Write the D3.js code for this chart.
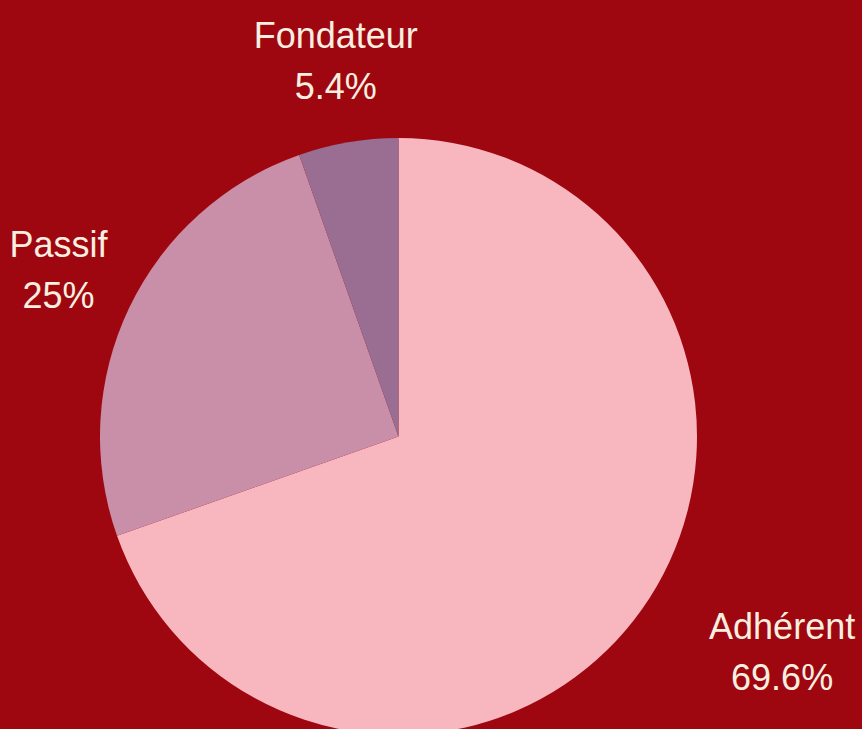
<!DOCTYPE html>
<html>
<head>
<meta charset="utf-8">
<script src="https://cdn.jsdelivr.net/npm/d3@7"></script>
<style>
  html, body { margin: 0; padding: 0; background: #9e0710; }
  svg { display: block; }
  .lbl { font-family: "Liberation Sans", Arial, sans-serif; font-size: 36px; fill: #f9efe0; }
</style>
</head>
<body>
<div id="chart"></div>
<script>
var categories = ["Adhérent", "Passif", "Fondateur"];
var values = [69.6, 25, 5.4];
var valueLabels = ["69.6%", "25%", "5.4%"];
var colors = ["#f8b6bf", "#c98ea8", "#996e92"];

var cfg = {
    w: 862,
    h: 729,
    cx: 398.5,
    cy: 436.5,
    r: 298.5,
    labelR: 378
};

var data = categories.map(function (c, i) {
    return { name: c, value: values[i], label: valueLabels[i], color: colors[i] };
});

var svg = d3.select("#chart").append("svg")
    .attr("width", cfg.w)
    .attr("height", cfg.h);

svg.append("rect")
    .attr("width", cfg.w)
    .attr("height", cfg.h)
    .attr("fill", "#9e0710");

var g = svg.append("g")
    .attr("transform", "translate(" + cfg.cx + "," + cfg.cy + ")");

var pie = d3.pie()
    .sort(null)
    .value(function (d) { return d.value; });

var arc = d3.arc().innerRadius(0).outerRadius(cfg.r);
var labelArc = d3.arc().innerRadius(cfg.labelR).outerRadius(cfg.labelR);

var arcs = pie(data);

g.selectAll("path.slice")
    .data(arcs)
    .enter()
    .append("path")
    .attr("class", "slice")
    .attr("d", arc)
    .attr("fill", function (d) { return d.data.color; });

// labels: two lines, centered on each other
var lbl = g.selectAll("g.lbl-g")
    .data(arcs)
    .enter()
    .append("g")
    .attr("class", "lbl-g");

lbl.each(function (d) {
    var p = labelArc.centroid(d);
    var grp = d3.select(this);
    var t1 = grp.append("text").attr("class", "lbl").attr("text-anchor", "middle")
        .attr("y", p[1] - 16).text(d.data.name);
    var t2 = grp.append("text").attr("class", "lbl").attr("text-anchor", "middle")
        .attr("y", p[1] + 35).text(d.data.label);
    var wdt = Math.max(t1.node().getComputedTextLength(), t2.node().getComputedTextLength());
    // right side: block starts at the label point
    var x = p[0] > 0 ? p[0] + 2 + wdt / 2 : p[0] + 1;
    t1.attr("x", x);
    t2.attr("x", x);
});
</script>
</body>
</html>
